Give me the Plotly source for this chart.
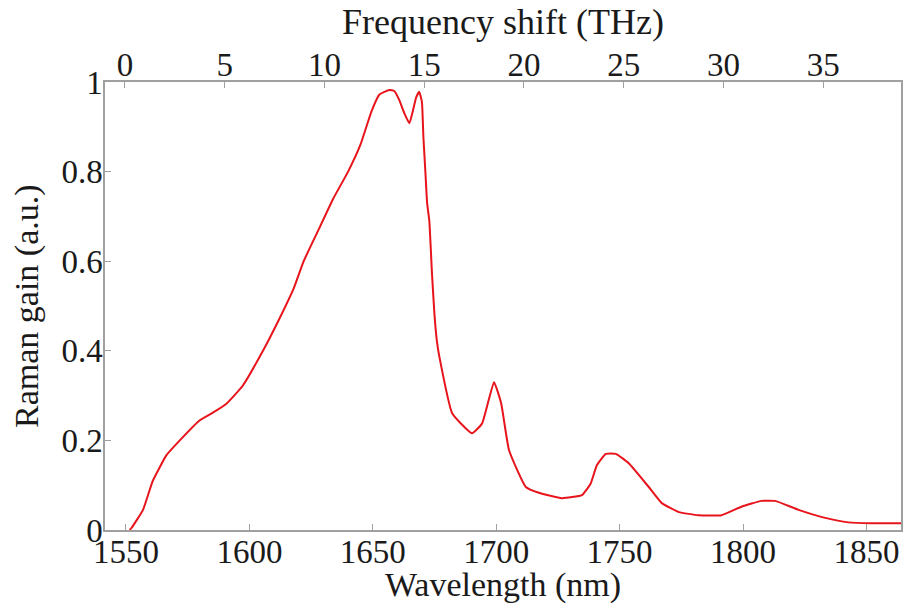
import plotly.graph_objects as go

wavelength_nm = [1551.5, 1552.3, 1556.9, 1560.9, 1566.4, 1571.8, 1579.9, 1585.2, 1590.7, 1597.3,
                 1605, 1612, 1618, 1622, 1628, 1634, 1640, 1645, 1649.5, 1652.7,
                 1656.7, 1658.7, 1660.7, 1662.8, 1664.8, 1666, 1667.6, 1668.8, 1669.9, 1670.5,
                 1671.3, 1672, 1672.9, 1674, 1675, 1676, 1677, 1682.2, 1690.2, 1694.3,
                 1699.1, 1702, 1705.2, 1712, 1717.3, 1726.6, 1734.7, 1738.3, 1740.8, 1744.4,
                 1748.5, 1753.7, 1761.8, 1767.1, 1774, 1782, 1791.3, 1799.4, 1807.5, 1813,
                 1822.5, 1833.3, 1842.6, 1851.9, 1864]
raman_gain = [0.0, 0.005, 0.045, 0.11, 0.167, 0.2, 0.245, 0.262, 0.282, 0.322,
              0.395, 0.47, 0.54, 0.60, 0.67, 0.74, 0.80, 0.86, 0.935, 0.972,
              0.982, 0.98, 0.96, 0.93, 0.908, 0.93, 0.966, 0.978, 0.955, 0.877,
              0.80, 0.73, 0.69, 0.57, 0.48, 0.42, 0.386, 0.26, 0.216, 0.238,
              0.33, 0.283, 0.178, 0.096, 0.083, 0.071, 0.078, 0.104, 0.145, 0.17,
              0.17, 0.149, 0.096, 0.06, 0.04, 0.033, 0.033, 0.052, 0.065, 0.065,
              0.045, 0.027, 0.017, 0.015, 0.015]

freq_range_thz = [-1.0, 38.9]
freq_ticks = [0, 5, 10, 15, 20, 25, 30, 35]
wl_ticks = [1550, 1600, 1650, 1700, 1750, 1800, 1850]
gain_ticks = [0, 0.2, 0.4, 0.6, 0.8, 1]

FONT = "Liberation Serif, Times New Roman, serif"
AX = "#a0a0a0"
TXT = "#1a1a1a"

fig = go.Figure()
fig.add_trace(go.Scatter(x=wavelength_nm, y=raman_gain, mode="lines",
                         line=dict(color="#e8141c", width=2, shape="spline", smoothing=0.4),
                         hoverinfo="skip", showlegend=False))
# invisible trace to carry the top frequency axis
fig.add_trace(go.Scatter(x=freq_range_thz, y=[0, 0], xaxis="x2", mode="lines",
                         line=dict(width=0), opacity=0, hoverinfo="skip", showlegend=False))

common = dict(showgrid=False, zeroline=False, showline=True, linecolor=AX, linewidth=1.5,
              ticks="inside", ticklen=6, tickcolor=AX, tickwidth=1.2,
              tickfont=dict(family=FONT, size=33, color=TXT))

fig.update_layout(
    width=909, height=605,
    margin=dict(l=105, r=6, t=82, b=75),
    paper_bgcolor="white", plot_bgcolor="white",
    xaxis=dict(range=[1541.5, 1864], tickvals=wl_ticks, mirror=False,
               ticklabelstandoff=-8, **common),
    xaxis2=dict(range=freq_range_thz, overlaying="x", side="top", anchor="y",
                tickvals=freq_ticks, ticklabelstandoff=-9, **common),
    yaxis=dict(range=[0, 1], tickvals=gain_ticks, mirror=True,
               ticklabelstandoff=-6, **common),
    annotations=[
        dict(text="Frequency shift (THz)", xref="paper", yref="paper", x=0.5, y=1.134,
             showarrow=False, font=dict(family=FONT, size=36, color=TXT),
             xanchor="center", yanchor="middle"),
        dict(text="Wavelength (nm)", xref="paper", yref="paper", x=0.5, y=-0.122,
             showarrow=False, font=dict(family=FONT, size=34, color=TXT),
             xanchor="center", yanchor="middle"),
        dict(text="Raman gain (a.u.)", xref="paper", yref="paper", x=-0.098, y=0.5,
             showarrow=False, textangle=-90, font=dict(family=FONT, size=34, color=TXT),
             xanchor="center", yanchor="middle"),
    ],
)

fig.write_html("out.html")
